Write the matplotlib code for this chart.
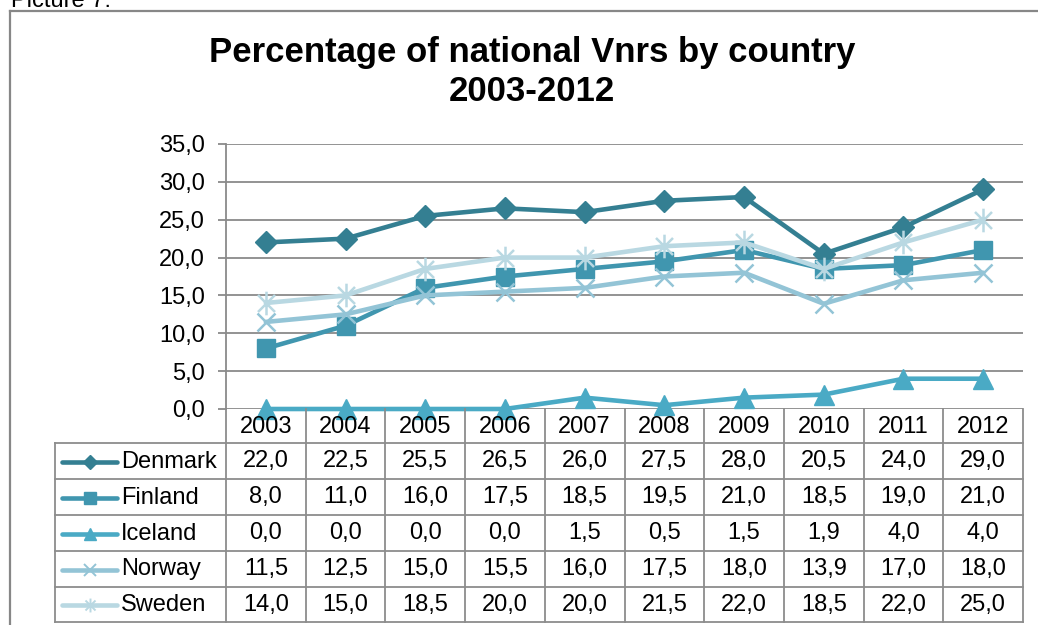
import matplotlib
matplotlib.use("Agg")
import matplotlib.pyplot as plt
from matplotlib.lines import Line2D
from matplotlib.path import Path
import matplotlib.transforms as mtransforms

plt.rcParams['font.family'] = ['Liberation Sans', 'DejaVu Sans']

# ---- data ----
years = ['2003', '2004', '2005', '2006', '2007', '2008', '2009', '2010', '2011', '2012']
countries = ['Denmark', 'Finland', 'Iceland', 'Norway', 'Sweden']
denmark = [22.0, 22.5, 25.5, 26.5, 26.0, 27.5, 28.0, 20.5, 24.0, 29.0]
finland = [8.0, 11.0, 16.0, 17.5, 18.5, 19.5, 21.0, 18.5, 19.0, 21.0]
iceland = [0.0, 0.0, 0.0, 0.0, 1.5, 0.5, 1.5, 1.9, 4.0, 4.0]
norway = [11.5, 12.5, 15.0, 15.5, 16.0, 17.5, 18.0, 13.9, 17.0, 18.0]
sweden = [14.0, 15.0, 18.5, 20.0, 20.0, 21.5, 22.0, 18.5, 22.0, 25.0]
series = [denmark, finland, iceland, norway, sweden]
yticks = [0, 5, 10, 15, 20, 25, 30, 35]
title = 'Percentage of national Vnrs by country\n2003-2012'

# ---- styles ----
colors = ['#347F92', '#4096AF', '#4AAAC5', '#93C4D6', '#B9D8E2']
asterisk = Path([(0, -1), (0, 1), (-0.72, -0.72), (0.72, 0.72), (-0.72, 0.72), (0.72, -0.72)],
                [Path.MOVETO, Path.LINETO, Path.MOVETO, Path.LINETO, Path.MOVETO, Path.LINETO])
markers = ['D', 's', '^', 'x', asterisk]
msizes = [11, 13, 14, 13, 17]
grid_c = '#8A8A8A'

W, H = 1038, 625
fig = plt.figure(figsize=(W / 100, H / 100), dpi=100)


def fx(x):
    return x / W


def fy(y):
    return 1 - y / H


L, R, T, B = 226, 1023, 144, 409
ax = fig.add_axes([fx(L), fy(B), fx(R) - fx(L), fy(T) - fy(B)])
xs = list(range(len(years)))
for vals, c, m, ms in zip(series, colors, markers, msizes):
    filled = m in ('D', 's', '^')
    ax.plot(xs, vals, color=c, lw=3.3, marker=m, markersize=ms,
            markerfacecolor=c, markeredgecolor=c,
            markeredgewidth=1 if filled else 1.8, clip_on=False, zorder=3,
            solid_capstyle='round', solid_joinstyle='round')

ax.set_xlim(-0.5, len(years) - 0.5)
ax.set_ylim(0, 35)
ax.set_yticks(yticks)
ax.set_yticklabels([f'{v:.1f}'.replace('.', ',') for v in yticks], fontsize=17)
ax.set_xticks([])
ax.grid(axis='y', color=grid_c, lw=1.3)
ax.set_axisbelow(True)
for s in ['top', 'right', 'bottom']:
    ax.spines[s].set_visible(False)
ax.spines['left'].set_color(grid_c)
ax.spines['left'].set_linewidth(1.3)
ax.tick_params(axis='y', length=6, width=1.3, color=grid_c, pad=9)

# ---- data table ----
blend = mtransforms.blended_transform_factory(ax.transData, fig.transFigure)
row_lines = [443, 479, 515, 551, 587, 622]
tab_c = '#8C8C8C'
for k in range(len(years) + 1):
    fig.add_artist(Line2D([k - 0.5, k - 0.5], [fy(B), fy(622)], transform=blend,
                          color=tab_c, lw=1.3))
for y in row_lines:
    fig.add_artist(Line2D([fx(55), fx(R)], [fy(y), fy(y)], transform=fig.transFigure,
                          color=tab_c, lw=1.3))
fig.add_artist(Line2D([fx(55), fx(55)], [fy(443), fy(622)], transform=fig.transFigure,
                      color=tab_c, lw=1.3))

for i, yr in enumerate(years):
    fig.text(i, fy(427), yr, transform=blend, ha='center', va='center', fontsize=17)

for r, (name, vals, c, m) in enumerate(zip(countries, series, colors, markers)):
    yc = fy((row_lines[r] + row_lines[r + 1]) / 2 + 0.5)
    filled = m in ('D', 's', '^')
    fig.add_artist(Line2D([fx(62), fx(117)], [yc, yc], transform=fig.transFigure,
                          color=c, lw=3.3, solid_capstyle='round'))
    fig.add_artist(Line2D([fx(89.5)], [yc], transform=fig.transFigure, color=c,
                          marker=m, markersize=7.5 if m == 'D' else (10 if m is asterisk else 8.5),
                          markerfacecolor=c, markeredgecolor=c,
                          markeredgewidth=1 if filled else 1.4, lw=0))
    fig.text(fx(121), yc, name, ha='left', va='center', fontsize=17)
    for i, v in enumerate(vals):
        fig.text(i, yc, f'{v:.1f}'.replace('.', ','), transform=blend,
                 ha='center', va='center', fontsize=17)

# ---- title ----
fig.text(fx(532), fy(72), title, ha='center', va='center', fontsize=25,
         fontweight='bold', linespacing=1.22)

# ---- outer frame and caption ----
fig.add_artist(Line2D([fx(10), fx(W + 5)], [fy(11), fy(11)], transform=fig.transFigure,
                      color='#878787', lw=1.6))
fig.add_artist(Line2D([fx(10), fx(10)], [fy(11), fy(H + 5)], transform=fig.transFigure,
                      color='#878787', lw=1.6))
fig.text(fx(11), fy(7), 'Picture 7:', ha='left', va='baseline', fontsize=17)

fig.savefig('out.png', dpi=100)
